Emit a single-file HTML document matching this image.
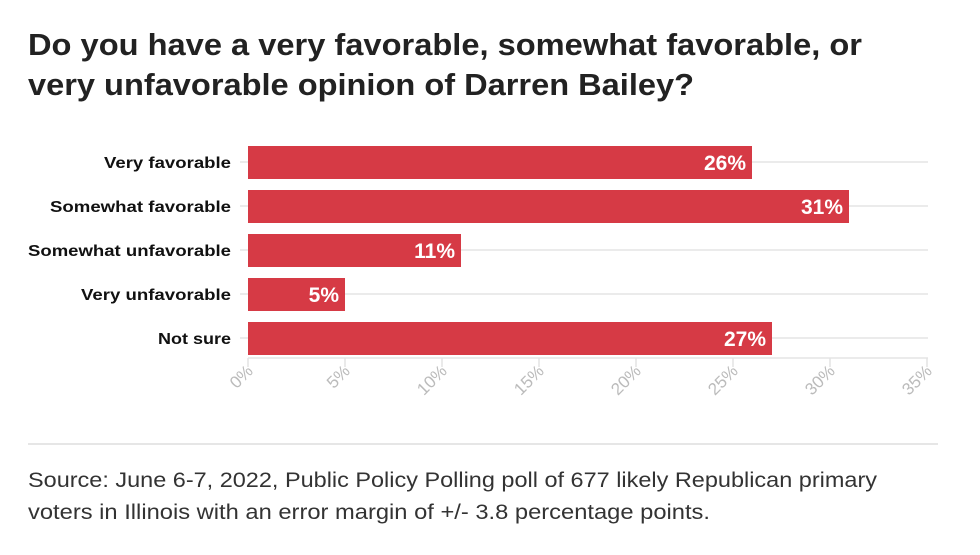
<!DOCTYPE html>
<html><head><meta charset="utf-8"><style>
body{margin:0;background:#fff;width:980px;height:550px;overflow:hidden;font-family:"Liberation Sans",sans-serif}
</style></head><body>
<svg width="980" height="550" xmlns="http://www.w3.org/2000/svg" font-family="Liberation Sans, sans-serif">
<text x="28" y="55" font-size="31" font-weight="bold" fill="#222" textLength="834" lengthAdjust="spacingAndGlyphs">Do you have a very favorable, somewhat favorable, or</text>
<text x="28" y="95" font-size="31" font-weight="bold" fill="#222" textLength="666" lengthAdjust="spacingAndGlyphs">very unfavorable opinion of Darren Bailey?</text>
<g stroke="#ebebeb" stroke-width="2">
<line x1="240" y1="162" x2="928" y2="162"/>
<line x1="240" y1="206" x2="928" y2="206"/>
<line x1="240" y1="250" x2="928" y2="250"/>
<line x1="240" y1="294" x2="928" y2="294"/>
<line x1="240" y1="338" x2="928" y2="338"/>
<line x1="248" y1="358" x2="928" y2="358"/>
</g>
<g stroke="#e3e3e3" stroke-width="1.5">
<line x1="248" y1="358" x2="248" y2="367"/><line x1="345" y1="358" x2="345" y2="367"/>
<line x1="442" y1="358" x2="442" y2="367"/><line x1="539" y1="358" x2="539" y2="367"/>
<line x1="636" y1="358" x2="636" y2="367"/><line x1="733" y1="358" x2="733" y2="367"/>
<line x1="830" y1="358" x2="830" y2="367"/><line x1="927" y1="358" x2="927" y2="367"/>
</g>
<g fill="#d63a45">
<rect x="248" y="146" width="504" height="33"/>
<rect x="248" y="190" width="601" height="33"/>
<rect x="248" y="234" width="213" height="33"/>
<rect x="248" y="278" width="97" height="33"/>
<rect x="248" y="322" width="524" height="33"/>
</g>
<g font-size="21" font-weight="bold" fill="#fff" text-anchor="end">
<text x="746" y="170">26%</text>
<text x="843" y="214">31%</text>
<text x="455" y="258">11%</text>
<text x="339" y="302">5%</text>
<text x="766" y="346">27%</text>
</g>
<g font-size="16" font-weight="bold" fill="#111">
<text x="104" y="168" textLength="127" lengthAdjust="spacingAndGlyphs">Very favorable</text>
<text x="50" y="212" textLength="181" lengthAdjust="spacingAndGlyphs">Somewhat favorable</text>
<text x="28" y="256" textLength="203" lengthAdjust="spacingAndGlyphs">Somewhat unfavorable</text>
<text x="81" y="300" textLength="150" lengthAdjust="spacingAndGlyphs">Very unfavorable</text>
<text x="158" y="344" textLength="73" lengthAdjust="spacingAndGlyphs">Not sure</text>
</g>
<g font-size="17" fill="#bbb" text-anchor="end">
<text transform="translate(254,372) rotate(-45)">0%</text>
<text transform="translate(351,372) rotate(-45)">5%</text>
<text transform="translate(448,372) rotate(-45)">10%</text>
<text transform="translate(545,372) rotate(-45)">15%</text>
<text transform="translate(642,372) rotate(-45)">20%</text>
<text transform="translate(739,372) rotate(-45)">25%</text>
<text transform="translate(836,372) rotate(-45)">30%</text>
<text transform="translate(933,372) rotate(-45)">35%</text>
</g>
<line x1="28" y1="444" x2="938" y2="444" stroke="#ddd" stroke-width="1.5"/>
<text x="28" y="487" font-size="21" fill="#333" textLength="849" lengthAdjust="spacingAndGlyphs">Source: June 6-7, 2022, Public Policy Polling poll of 677 likely Republican primary</text>
<text x="28" y="519" font-size="21" fill="#333" textLength="682" lengthAdjust="spacingAndGlyphs">voters in Illinois with an error margin of +/- 3.8 percentage points.</text>
</svg>
</body></html>
